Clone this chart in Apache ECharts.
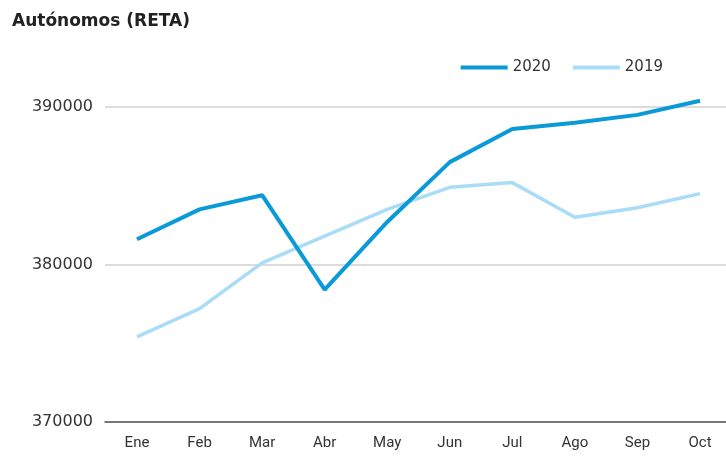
<!DOCTYPE html>
<html>
<head>
<meta charset="utf-8">
<script src="https://cdn.jsdelivr.net/npm/echarts@6/dist/echarts.min.js"></script>
<style>
  html, body { margin: 0; padding: 0; background: #fff; }
  #main { width: 726px; height: 458px; }
</style>
</head>
<body>
<div id="main"></div>
<script>
// meses
const months = ['Ene', 'Feb', 'Mar', 'Abr', 'May', 'Jun', 'Jul', 'Ago', 'Sep', 'Oct'];
// afiliados RETA
const reta2020 = [381600, 383500, 384400, 378400, 382700, 386500, 388600, 389000, 389500, 390400];
const reta2019 = [375400, 377200, 380100, 381800, 383500, 384900, 385200, 383000, 383600, 384500];

const yMin = 370000, yMax = 390000, yStep = 10000;

const chart = echarts.init(document.getElementById('main'), null, { renderer: 'canvas' });

const option = {
  animation: false,
  title: {
    text: 'Autónomos (RETA)',
    left: 7,
    top: 8,
    textStyle: {
      fontFamily: 'DejaVu Sans',
      fontSize: 17,
      fontWeight: 'bold',
      color: '#222'
    }
  },
  legend: {
    right: 58,
    top: 55,
    icon: 'rect',
    itemWidth: 47,
    itemHeight: 4,
    itemGap: 22,
    textStyle: { fontFamily: 'DejaVu Sans', fontSize: 15, color: '#333' },
    data: ['2020', '2019']
  },
  // grid 0: fondo con rejilla a todo lo ancho, grid 1: las lineas
  grid: [
    { left: 105, right: 0, top: 107, bottom: 36 },
    { left: 137, right: 26, top: 107, bottom: 36 }
  ],
  xAxis: [
    {
      gridIndex: 0,
      type: 'value',
      min: 0,
      max: 1,
      axisLine: { show: true, lineStyle: { color: '#555', width: 1.5 } },
      axisTick: { show: false },
      axisLabel: { show: false },
      splitLine: { show: false }
    },
    {
      gridIndex: 1,
      type: 'category',
      data: months,
      boundaryGap: false,
      axisLine: { show: false },
      axisTick: { show: false },
      axisLabel: {
        margin: 14,
        fontFamily: 'Roboto',
        fontSize: 15,
        color: '#333'
      }
    }
  ],
  yAxis: [
    {
      gridIndex: 0,
      type: 'value',
      min: yMin,
      max: yMax,
      interval: yStep,
      axisLine: { show: false },
      axisTick: { show: false },
      axisLabel: {
        margin: 12,
        fontFamily: 'DejaVu Sans',
        fontSize: 16,
        color: '#333',
        formatter: function (v) { return String(v); }
      },
      splitLine: { lineStyle: { color: '#d0d0d0', width: 1.5 } }
    },
    {
      gridIndex: 1,
      type: 'value',
      min: yMin,
      max: yMax,
      interval: yStep,
      show: false
    }
  ],
  series: [
    {
      name: '2020',
      type: 'line',
      xAxisIndex: 1,
      yAxisIndex: 1,
      data: reta2020,
      symbol: 'none',
      clip: false,
      z: 3,
      itemStyle: { color: '#0a9ad8' },
      lineStyle: { color: '#0a9ad8', width: 4 }
    },
    {
      name: '2019',
      type: 'line',
      xAxisIndex: 1,
      yAxisIndex: 1,
      data: reta2019,
      symbol: 'none',
      clip: false,
      z: 2,
      itemStyle: { color: '#a9dcf6' },
      lineStyle: { color: '#a9dcf6', width: 3.5 }
    }
  ]
};

chart.setOption(option);
</script>
</body>
</html>
